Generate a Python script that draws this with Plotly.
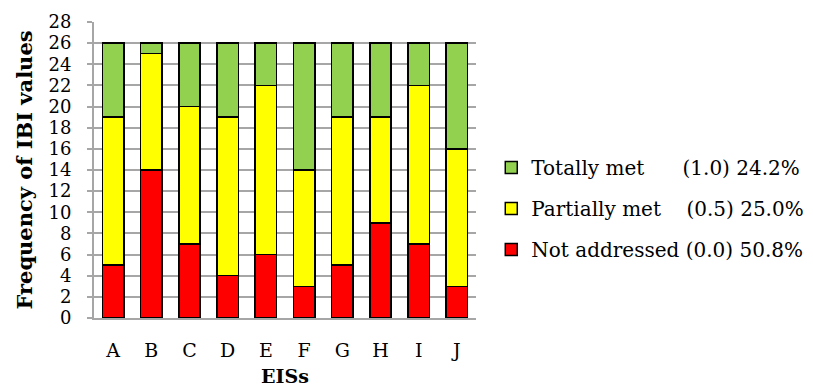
import plotly.graph_objects as go

categories = ["A", "B", "C", "D", "E", "F", "G", "H", "I", "J"]
not_addressed = [5, 14, 7, 4, 6, 3, 5, 9, 7, 3]
partially_met = [14, 11, 13, 15, 16, 11, 14, 10, 15, 13]
totally_met = [7, 1, 6, 7, 4, 12, 7, 7, 4, 10]
series_names = [
    "Not addressed (0.0) 50.8%",
    "Partially met\u00a0\u00a0\u00a0\u00a0(0.5) 25.0%",
    "Totally met\u00a0\u00a0\u00a0\u00a0\u00a0\u00a0(1.0) 24.2%",
]
colors = ["#ff0000", "#ffff00", "#92d050"]
legend_ranks = [3, 2, 1]
y_ticks = list(range(0, 29, 2))

FONT = "DejaVu Serif"
fig = go.Figure()
for i, (name, vals, col) in enumerate(zip(series_names, [not_addressed, partially_met, totally_met], colors)):
    fig.add_trace(go.Bar(
        x=categories, y=vals, name=name, legendgroup=str(i), legendrank=legend_ranks[i],
        marker=dict(color=col, line=dict(color="#000000", width=1.5)),
    ))

fig.update_layout(
    width=813, height=388,
    margin=dict(l=94, r=337, t=22, b=70, autoexpand=False),
    barmode="stack", bargap=0.44,
    plot_bgcolor="white", paper_bgcolor="white",
    font=dict(family=FONT, color="#000000", size=16),
    showlegend=True,
    legend=dict(
        x=1.04, xanchor="left", y=0.37, yanchor="middle",
        traceorder="grouped", tracegroupgap=12,
        font=dict(family=FONT, size=20, color="#000000"),
        itemwidth=30,
    ),
    xaxis=dict(
        automargin=False,
        showline=True, linecolor="#a6a6a6", linewidth=2,
        tickfont=dict(size=19), ticks="", ticklabelstandoff=14,
        title=dict(text="<b>EISs</b>", font=dict(size=19), standoff=10),
    ),
    yaxis=dict(
        automargin=False,
        range=[0, 28], tickvals=y_ticks, ticktext=[str(v) for v in y_ticks],
        showgrid=True, gridcolor="#a6a6a6", gridwidth=1.5,
        showline=True, linecolor="#a6a6a6", linewidth=2,
        ticks="outside", ticklen=5, tickcolor="#a6a6a6", tickwidth=1.5,
        tickfont=dict(size=18), ticklabelstandoff=12,
        title=dict(text="<b>Frequency of IBI values</b>", font=dict(size=21), standoff=10),
        zeroline=False,
    ),
)
fig.write_html("out.html", config={"displayModeBar": False},
               post_script="document.body.style.margin='0';")
